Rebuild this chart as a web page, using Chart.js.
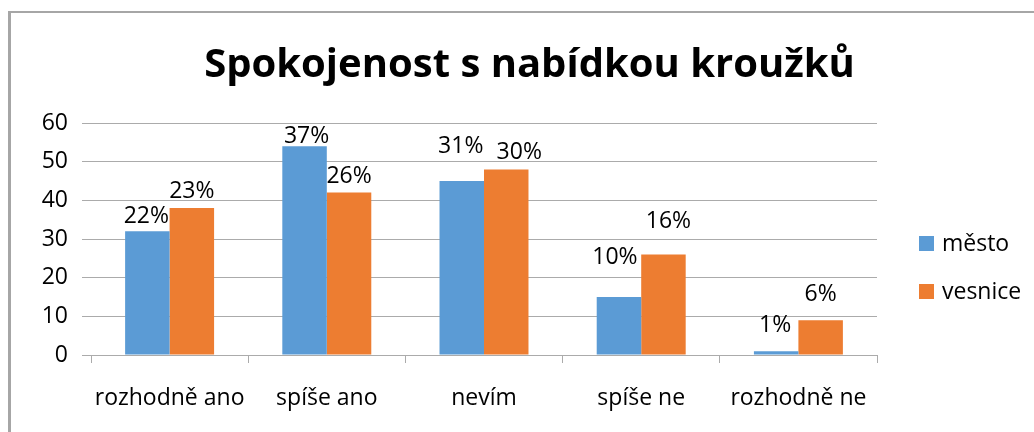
<!DOCTYPE html>
<html>
<head>
<meta charset="utf-8">
<style>
  html, body { margin: 0; padding: 0; background: #ffffff; }
  #wrap { width: 1034px; height: 432px; position: relative; }
</style>
<script src="https://cdn.jsdelivr.net/npm/chart.js@4/dist/chart.umd.min.js"></script>
</head>
<body>
<div id="wrap"><canvas id="c" width="1034" height="432"></canvas></div>
<script>
// ---- data ----
const chartTitle = 'Spokojenost s nabídkou kroužků';
const categories = ['rozhodně ano', 'spíše ano', 'nevím', 'spíše ne', 'rozhodně ne'];
const seriesNames = ['město', 'vesnice'];
const mestoValues = [32, 54, 45, 15, 1];
const vesniceValues = [38, 42, 48, 26, 9];
const mestoLabels = ['22%', '37%', '31%', '10%', '1%'];
const vesniceLabels = ['23%', '26%', '30%', '16%', '6%'];
const yTicks = [0, 10, 20, 30, 40, 50, 60];

const FONT = "'Open Sans', 'Liberation Sans', sans-serif";
const colors = ['#5B9BD5', '#ED7D31'];

// label nudges (relative to the default spot above each bar)
const labelNudges = [
  [{dx:-1,dy:2},{dx:2,dy:7},{dx:-1,dy:-18},{dx:-4,dy:-23},{dx:-1,dy:-9}],
  [{dx:0,dy:0},{dx:0,dy:0},{dx:13,dy:0},{dx:5,dy:-16},{dx:0,dy:-9}]
];

const framePlugin = {
  id: 'frame',
  beforeDraw(chart) {
    const ctx = chart.ctx;
    ctx.save();
    ctx.fillStyle = '#a6a6a6';
    ctx.fillRect(8, 11, 3, chart.height - 11);
    ctx.fillRect(8, 11, chart.width - 8, 2);
    ctx.restore();
  },
  afterDraw(chart) {
    const ctx = chart.ctx;
    ctx.save();
    // title
    ctx.fillStyle = '#000000';
    ctx.font = "bold 40px " + FONT;
    ctx.textAlign = 'center';
    ctx.textBaseline = 'alphabetic';
    ctx.fillText(chartTitle, 529.5, 77);
    // legend
    ctx.font = "23px " + FONT;
    ctx.textAlign = 'left';
    chart.data.datasets.forEach((ds, i) => {
      const top = 236 + i * 48;
      ctx.fillStyle = ds.backgroundColor;
      ctx.fillRect(919, top, 15, 15);
      ctx.fillStyle = '#000000';
      ctx.fillText(ds.label, 942, top + 15);
    });
    ctx.restore();
  }
};

const labelPlugin = {
  id: 'barLabels',
  afterDatasetsDraw(chart) {
    const ctx = chart.ctx;
    const texts = [mestoLabels, vesniceLabels];
    ctx.save();
    ctx.font = "23px " + FONT;
    ctx.fillStyle = '#000000';
    ctx.textAlign = 'center';
    ctx.textBaseline = 'alphabetic';
    chart.data.datasets.forEach((ds, i) => {
      const meta = chart.getDatasetMeta(i);
      meta.data.forEach((bar, j) => {
        const n = labelNudges[i][j];
        ctx.fillText(texts[i][j], bar.x + n.dx, bar.y - 10 + n.dy);
      });
    });
    ctx.restore();
  }
};

new Chart(document.getElementById('c'), {
  type: 'bar',
  data: {
    labels: categories,
    datasets: [
      { label: seriesNames[0], data: mestoValues, backgroundColor: colors[0], borderWidth: 0 },
      { label: seriesNames[1], data: vesniceValues, backgroundColor: colors[1], borderWidth: 0 }
    ]
  },
  options: {
    responsive: false,
    animation: false,
    devicePixelRatio: 1,
    layout: { padding: { top: 123, right: 157, bottom: 0, left: 0 } },
    plugins: {
      legend: { display: false },
      title: { display: false },
      tooltip: { enabled: false }
    },
    datasets: { bar: { categoryPercentage: 0.566, barPercentage: 1.0 } },
    scales: {
      x: {
        grid: { display: true, drawOnChartArea: false, drawTicks: true, tickLength: 8, color: '#ababab', offset: true },
        border: { display: true, color: '#ababab', width: 1 },
        ticks: { color: '#000000', font: { family: FONT, size: 23 }, padding: 22, maxRotation: 0, autoSkip: false },
        afterFit(scale) { scale.height = 77; }
      },
      y: {
        min: 0, max: 60,
        afterBuildTicks(scale) { scale.ticks = yTicks.map(v => ({ value: v })); },
        grid: { color: '#ababab', drawTicks: true, tickLength: 9 },
        border: { display: false },
        ticks: { color: '#000000', font: { family: FONT, size: 23 }, padding: 14 },
        afterFit(scale) { scale.width = 91; }
      }
    }
  },
  plugins: [framePlugin, labelPlugin]
});
</script>
</body>
</html>
